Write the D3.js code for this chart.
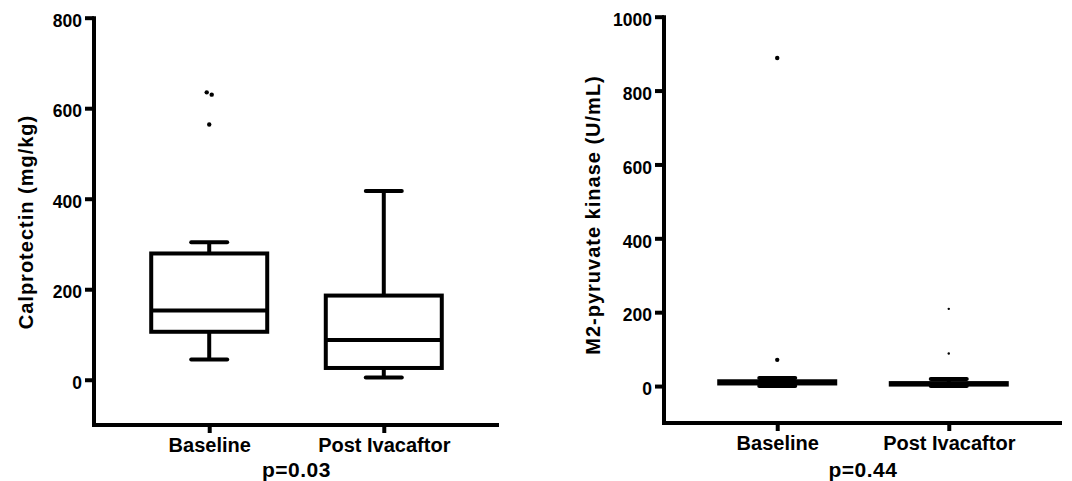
<!DOCTYPE html>
<html>
<head>
<meta charset="utf-8">
<script src="https://cdn.jsdelivr.net/npm/d3@7"></script>
<style>
  html, body { margin: 0; padding: 0; background: #fff; }
  svg { display: block; }
  svg text { font-family: "Liberation Sans", Arial, sans-serif; font-weight: bold; fill: #000; }
</style>
</head>
<body>
<svg id="chart" width="1072" height="481"></svg>
<script>
const groups = ['Baseline', 'Post Ivacaftor'];

// Calprotectin (mg/kg)
const calproTicks    = [0, 200, 400, 600, 800];
const calproMin      = [45, 5];
const calproQ1       = [106, 26];
const calproMedian   = [153, 88];
const calproQ3       = [279, 186];
const calproMax      = [304, 417];
const calproOutliers = [[635, 630, 564], []];

// M2-pyruvate kinase (U/mL)
const pkTicks    = [0, 200, 400, 600, 800, 1000];
const pkMin      = [0, 0];
const pkQ1       = [7, 4];
const pkMedian   = [10, 6];
const pkQ3       = [13, 8];
const pkMax      = [22, 19];
const pkOutliers = [[71, 888], [88, 209]];

const svg = d3.select('#chart');
const STROKE = 4;

function panel(o) {
  const g = svg.append('g');
  const x = d3.scalePoint().domain(groups).range([o.left, o.right]).padding(0.66);
  const y = d3.scaleLinear().domain(o.domain).range([o.bottom, o.top]);

  // y axis
  const ya = g.append('g').attr('transform', `translate(${o.left},0)`)
    .call(d3.axisLeft(y).tickValues(o.ticks).tickFormat(d3.format('d'))
      .tickSize(9).tickPadding(3).tickSizeOuter(0));
  ya.select('.domain').attr('d', `M0,${o.bottom}V${y(o.domain[1]) - 1.5}`)
    .attr('stroke-width', STROKE).attr('stroke', '#000');
  ya.selectAll('.tick line').attr('stroke-width', STROKE).attr('stroke', '#000');
  ya.selectAll('.tick text').attr('font-size', 17.5).attr('dy', '0.5em');

  // x axis
  const xa = g.append('g').attr('transform', `translate(0,${o.bottom})`)
    .call(d3.axisBottom(x).tickSize(8).tickPadding(0).tickSizeOuter(0));
  xa.select('.domain').attr('d', `M${o.left - STROKE / 2},0H${o.right}`)
    .attr('stroke-width', STROKE).attr('stroke', '#000');
  xa.selectAll('.tick line').attr('stroke-width', STROKE).attr('stroke', '#000');
  xa.selectAll('.tick text').attr('font-size', 20).attr('y', 27).attr('dy', 0);

  const boxW = 116, capW = 36;
  const idx = d3.range(groups.length);
  const line = { stroke: '#000', 'stroke-width': STROKE, fill: 'none' };
  const setAttrs = (sel, a) => { Object.entries(a).forEach(([k, v]) => sel.attr(k, v)); return sel; };

  // whiskers
  setAttrs(g.selectAll('line.wu').data(idx).join('line').attr('class', 'wu')
    .attr('x1', i => x(groups[i])).attr('x2', i => x(groups[i]))
    .attr('y1', i => y(o.q3[i])).attr('y2', i => y(o.max[i])), line);
  setAttrs(g.selectAll('line.wl').data(idx).join('line').attr('class', 'wl')
    .attr('x1', i => x(groups[i])).attr('x2', i => x(groups[i]))
    .attr('y1', i => y(o.q1[i])).attr('y2', i => y(o.min[i])), line);
  // caps
  [o.max, o.min].forEach((arr, k) => {
    setAttrs(g.selectAll('line.cap' + k).data(idx).join('line').attr('class', 'cap' + k)
      .attr('x1', i => x(groups[i]) - capW / 2).attr('x2', i => x(groups[i]) + capW / 2)
      .attr('y1', i => y(arr[i])).attr('y2', i => y(arr[i])), line)
      .attr('stroke-linecap', 'round');
  });
  // boxes
  setAttrs(g.selectAll('rect.box').data(idx).join('rect').attr('class', 'box')
    .attr('x', i => x(groups[i]) - boxW / 2).attr('width', boxW)
    .attr('y', i => y(o.q3[i])).attr('height', i => y(o.q1[i]) - y(o.q3[i])), line);
  // medians
  setAttrs(g.selectAll('line.med').data(idx).join('line').attr('class', 'med')
    .attr('x1', i => x(groups[i]) - boxW / 2).attr('x2', i => x(groups[i]) + boxW / 2)
    .attr('y1', i => y(o.median[i])).attr('y2', i => y(o.median[i])), line);

  // outliers, nudged sideways when two would overlap
  const pts = [];
  o.outliers.forEach((vals, i) => {
    vals.forEach((v, j) => {
      const k = vals.findIndex((w, m) => m !== j && Math.abs(y(w) - y(v)) < 4);
      const dx = k < 0 ? 0 : (j < k ? -2.5 : 2.5);
      pts.push({ cx: x(groups[i]) + dx, cy: y(v), r: o.dotR[i] });
    });
  });
  g.selectAll('circle.out').data(pts).join('circle').attr('class', 'out')
    .attr('cx', d => d.cx).attr('cy', d => d.cy).attr('r', d => d.r).attr('fill', '#000');

  // axis title
  g.append('text')
    .attr('transform', `translate(${o.titleX},${o.titleY}) rotate(-90)`)
    .attr('text-anchor', 'middle').attr('font-size', 20).attr('letter-spacing', 1)
    .text(o.title);

  // p value
  g.append('text')
    .attr('x', (x(groups[0]) + x(groups[1])) / 2).attr('y', 477)
    .attr('text-anchor', 'middle').attr('font-size', 21).attr('letter-spacing', 0.5)
    .text(o.p);
}

panel({
  left: 94, right: 499, top: 17.7, bottom: 425,
  domain: [-100, 800], ticks: calproTicks,
  min: calproMin, q1: calproQ1, median: calproMedian, q3: calproQ3, max: calproMax,
  outliers: calproOutliers, dotR: [2.2, 2.2],
  title: 'Calprotectin (mg/kg)', titleX: 33, titleY: 222, p: 'p=0.03'
});

panel({
  left: 664, right: 1062, top: 16.7, bottom: 423,
  domain: [-100, 1000], ticks: pkTicks,
  min: pkMin, q1: pkQ1, median: pkMedian, q3: pkQ3, max: pkMax,
  outliers: pkOutliers, dotR: [2.2, 1.2],
  title: 'M2-pyruvate kinase (U/mL)', titleX: 600, titleY: 215, p: 'p=0.44'
});
</script>
</body>
</html>
